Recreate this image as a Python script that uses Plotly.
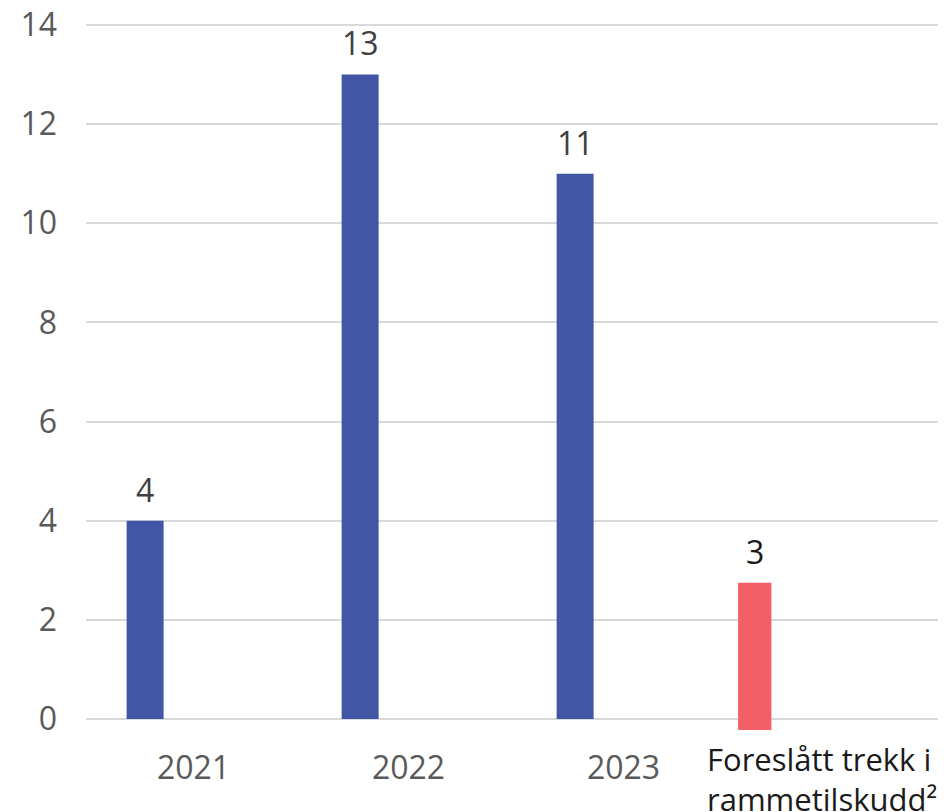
import plotly.graph_objects as go

categories = ["2021", "2022", "2023", "Foreslått trekk i<br>rammetilskudd²"]
blue_values = [4, 13, 11]
blue_labels = ["4", "13", "11"]
red_top = [2.75]
red_bottom = [-0.22]
red_labels = ["3"]
y_ticks = [0, 2, 4, 6, 8, 10, 12, 14]

BLUE = "#4157A6"
RED = "#F25F66"
FONT = "Open Sans"
FS = 32

px_per_cat = 215.0
blue_offset, blue_width = -0.311, 0.172
red_offset, red_width = -0.467, 0.155

fig = go.Figure()
fig.add_trace(go.Bar(
    x=categories[:3], y=blue_values, marker=dict(color=BLUE, line=dict(width=0)),
    offset=blue_offset, width=blue_width, hoverinfo="skip",
))
fig.add_trace(go.Bar(
    x=categories[3:], y=[t - b for t, b in zip(red_top, red_bottom)], base=red_bottom,
    marker=dict(color=RED, line=dict(width=0)),
    offset=red_offset, width=red_width, hoverinfo="skip",
))

annotations = []
bshift = (blue_offset + blue_width / 2) * px_per_cat
for i, (v, t) in enumerate(zip(blue_values, blue_labels)):
    annotations.append(dict(x=i, y=v, text=t, showarrow=False, xref="x", yref="y",
                            xanchor="center", yanchor="bottom", xshift=bshift, yshift=8,
                            font=dict(family=FONT, size=FS, color="#404040")))
rshift = (red_offset + red_width / 2) * px_per_cat
for j, (v, t) in enumerate(zip(red_top, red_labels)):
    annotations.append(dict(x=3 + j, y=v, text=t, showarrow=False, xref="x", yref="y",
                            xanchor="center", yanchor="bottom", xshift=rshift, yshift=8,
                            font=dict(family=FONT, size=FS, color="#1a1a1a")))
annotations.append(dict(x=3, y=0, xref="x", yref="paper", text=categories[3],
                        showarrow=False, xanchor="center", yanchor="top", align="left",
                        xshift=-17, yshift=-2,
                        font=dict(family=FONT, size=31, color="#1a1a1a")))

fig.update_layout(
    width=946, height=812,
    margin=dict(l=78, r=8, t=2, b=86),
    paper_bgcolor="white", plot_bgcolor="white",
    barmode="overlay", showlegend=False,
    font=dict(family=FONT, size=FS, color="#595959"),
    annotations=annotations,
    xaxis=dict(
        type="category", categoryorder="array", categoryarray=categories,
        range=[-0.5, 3.5], showgrid=False, zeroline=False, showline=False,
        tickmode="array", tickvals=categories[:3], ticktext=categories[:3],
        ticks="", ticklabelstandoff=12, automargin=False,
        tickfont=dict(family=FONT, size=FS, color="#595959"),
    ),
    yaxis=dict(
        range=[-0.3, 14.3], tickmode="array", tickvals=y_ticks,
        showgrid=True, gridcolor="#D9D9D9", gridwidth=1.5,
        zeroline=True, zerolinecolor="#D9D9D9", zerolinewidth=1.5,
        showline=False, ticks="", ticklabelstandoff=28, automargin=False,
        ticklabeloverflow="allow",
        tickfont=dict(family=FONT, size=FS, color="#595959"),
    ),
)

fig.write_html("out.html")
